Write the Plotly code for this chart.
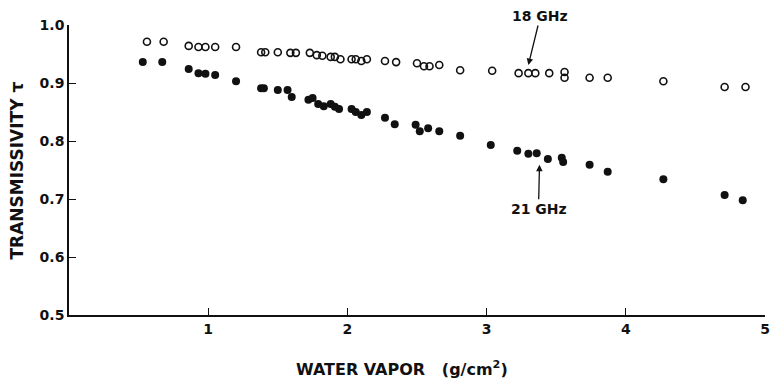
import plotly.graph_objects as go

# 18 GHz (open circles)
wv_18 = [0.56, 0.68, 0.86, 0.93, 0.98, 1.05, 1.20, 1.38, 1.41, 1.50, 1.59, 1.63,
         1.73, 1.78, 1.82, 1.88, 1.91, 1.95, 2.03, 2.06, 2.10, 2.14, 2.27, 2.35,
         2.50, 2.55, 2.59, 2.66, 2.81, 3.04, 3.23, 3.30, 3.35, 3.45, 3.56, 3.56,
         3.74, 3.87, 4.27, 4.71, 4.86]
tau_18 = [0.971, 0.971, 0.964, 0.962, 0.962, 0.962, 0.962, 0.953, 0.953, 0.953, 0.952, 0.952,
          0.952, 0.948, 0.947, 0.945, 0.945, 0.941, 0.941, 0.941, 0.938, 0.941, 0.938, 0.936,
          0.934, 0.929, 0.929, 0.931, 0.922, 0.921, 0.917, 0.917, 0.917, 0.917, 0.919, 0.909,
          0.909, 0.909, 0.903, 0.893, 0.893]

# 21 GHz (filled circles)
wv_21 = [0.53, 0.67, 0.86, 0.93, 0.98, 1.05, 1.20, 1.38, 1.40, 1.50, 1.57, 1.60,
         1.72, 1.75, 1.79, 1.83, 1.88, 1.91, 1.94, 2.03, 2.06, 2.10, 2.14, 2.27,
         2.34, 2.49, 2.52, 2.58, 2.66, 2.81, 3.03, 3.22, 3.30, 3.36, 3.44, 3.54,
         3.55, 3.74, 3.87, 4.27, 4.71, 4.84]
tau_21 = [0.936, 0.936, 0.924, 0.917, 0.916, 0.914, 0.903, 0.891, 0.891, 0.888, 0.888, 0.876,
          0.871, 0.874, 0.864, 0.860, 0.864, 0.859, 0.855, 0.855, 0.850, 0.845, 0.850, 0.840,
          0.829, 0.828, 0.817, 0.822, 0.817, 0.809, 0.793, 0.783, 0.778, 0.779, 0.769, 0.771,
          0.764, 0.759, 0.747, 0.734, 0.707, 0.698]

x_ticks = [1, 2, 3, 4, 5]
x_tick_labels = ["1", "2", "3", "4", "5"]
y_ticks = [0.5, 0.6, 0.7, 0.8, 0.9, 1.0]
y_tick_labels = ["0.5", "0.6", "0.7", "0.8", "0.9", "1.0"]

FONT = "DejaVu Sans"
INK = "#111111"

fig = go.Figure()
fig.add_trace(go.Scatter(
    x=wv_18, y=tau_18, mode="markers", name="18 GHz",
    marker=dict(symbol="circle-open", size=7, color=INK, line=dict(width=1.6, color=INK)),
))
fig.add_trace(go.Scatter(
    x=wv_21, y=tau_21, mode="markers", name="21 GHz",
    marker=dict(symbol="circle", size=8, color=INK, line=dict(width=0)),
))

fig.add_annotation(x=3.30, y=0.931, text="<b>18 GHz</b>", showarrow=True,
                   ax=12, ay=-49, arrowhead=2, arrowsize=1, arrowwidth=1.3,
                   arrowcolor=INK, font=dict(family=FONT, size=14, color=INK))
fig.add_annotation(x=3.38, y=0.759, text="<b>21 GHz</b>", showarrow=True,
                   ax=-1, ay=44, arrowhead=2, arrowsize=1, arrowwidth=1.3,
                   arrowcolor=INK, font=dict(family=FONT, size=14, color=INK))

fig.add_annotation(xref="paper", yref="paper", x=0.479, y=-0.186, yanchor="middle",
                   text="<b>WATER VAPOR   (g/cm<sup>2</sup>)</b>", showarrow=False,
                   font=dict(family=FONT, size=16, color=INK))
fig.add_annotation(xref="paper", yref="paper", x=-0.074, y=0.5, xanchor="center",
                   yanchor="middle",
                   text="<b>TRANSMISSIVITY τ</b>", showarrow=False, textangle=-90,
                   font=dict(family=FONT, size=17, color=INK))

fig.update_layout(
    width=772, height=381,
    margin=dict(l=69, r=2, t=25, b=66),
    paper_bgcolor="white", plot_bgcolor="white",
    showlegend=False,
    font=dict(family=FONT, color=INK),
)
fig.update_xaxes(
    range=[0, 5], tickvals=x_ticks, ticktext=["<b>%s</b>" % t for t in x_tick_labels],
    ticks="inside", ticklen=7, tickwidth=1.3, tickcolor=INK, ticklabeloverflow="allow",
    showline=True, linecolor=INK, linewidth=1.6, showgrid=False, zeroline=False,
    tickfont=dict(family=FONT, size=14, color=INK),
)
fig.update_yaxes(
    range=[0.5, 1.0], tickvals=y_ticks, ticktext=["<b>%s</b>" % t for t in y_tick_labels],
    ticks="inside", ticklen=7, tickwidth=1.3, tickcolor=INK,
    showline=True, linecolor=INK, linewidth=1.6, showgrid=False, zeroline=False,
    tickfont=dict(family=FONT, size=14, color=INK),
)

fig.write_html("out.html", config={"displayModeBar": False},
               post_script="document.body.style.margin='0';")
